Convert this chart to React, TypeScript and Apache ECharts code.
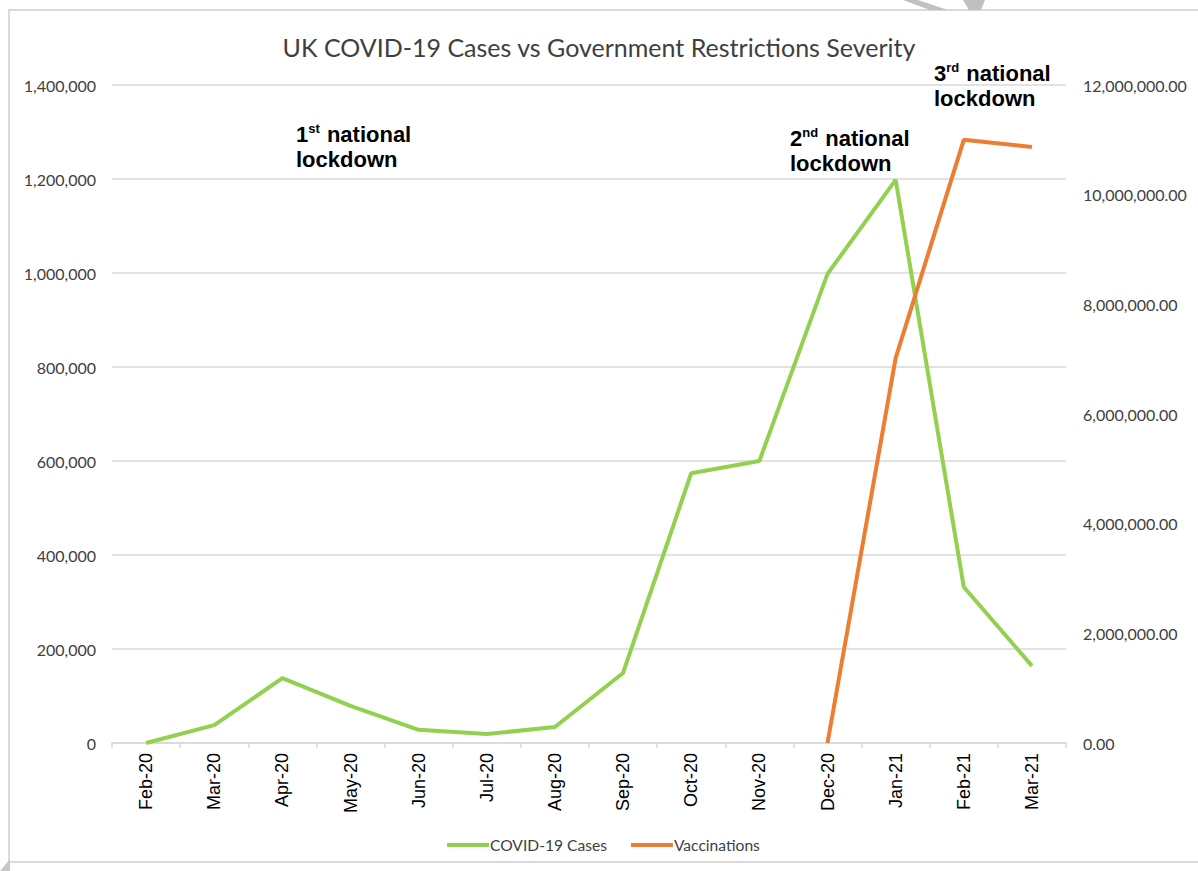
import React, { useEffect, useRef } from "react";
import * as echarts from "echarts";

const categories = ["Feb-20", "Mar-20", "Apr-20", "May-20", "Jun-20", "Jul-20", "Aug-20", "Sep-20", "Oct-20", "Nov-20", "Dec-20", "Jan-21", "Feb-21", "Mar-21"];
const covidCases = [0, 38000, 138000, 79000, 28000, 19000, 34000, 149000, 574000, 600000, 998000, 1198000, 332000, 164000];
const vaccinations = [null, null, null, null, null, null, null, null, null, null, 0, 7020000, 11000000, 10870000];
const seriesNames = ["COVID-19 Cases", "Vaccinations"];
const titleText = "UK COVID-19 Cases vs Government Restrictions Severity";

export default function App() {
  const ref = useRef<HTMLDivElement>(null);
  useEffect(() => {
    const chart = echarts.init(ref.current!, null, { renderer: "svg" });
    const annStyle = (text: string, x: number, y: number) => ({
      type: "text",
      x,
      y,
      style: {
        text,
        fill: "#000",
        rich: {
          b: { fontFamily: "Liberation Sans", fontWeight: "bold", fontSize: 22, lineHeight: 25 },
          s: { fontFamily: "Liberation Sans", fontWeight: "bold", fontSize: 13, lineHeight: 25, verticalAlign: "top", padding: [0, 1, 0, 0] },
        },
      },
    });
    chart.setOption({
      animation: false,
      backgroundColor: "#fff",
      title: {
        text: titleText,
        left: "center",
        top: 29,
        textStyle: { fontFamily: "Lato", fontWeight: "normal", fontSize: 25, color: "#404040" },
      },
      grid: { left: 112, right: 132, top: 85, bottom: 128 },
      legend: {
        bottom: 13,
        left: 442,
        itemWidth: 42,
        itemHeight: 4,
        itemGap: 24,
        icon: "rect",
        textStyle: { fontFamily: "Lato", fontSize: 15.6, color: "#404040", padding: [0, 0, 0, -4] },
        data: seriesNames,
      },
      xAxis: {
        type: "category",
        data: categories,
        boundaryGap: true,
        axisLine: { lineStyle: { color: "#d9d9d9", width: 1.5 } },
        axisTick: { show: true, length: 5, lineStyle: { color: "#d9d9d9", width: 1.5 } },
        axisLabel: { rotate: 90, fontFamily: "Liberation Sans", fontSize: 18, color: "#000", margin: 10 },
      },
      yAxis: [
        {
          type: "value",
          min: 0,
          max: 1400000,
          interval: 200000,
          axisLine: { show: false },
          axisTick: { show: false },
          splitLine: { lineStyle: { color: "#d9d9d9", width: 1.5 } },
          axisLabel: {
            fontFamily: "Lato",
            fontSize: 16,
            color: "#404040",
            margin: 16,
            formatter: (v: number) => v.toLocaleString("en-US"),
          },
        },
        {
          type: "value",
          min: 0,
          max: 12000000,
          interval: 2000000,
          axisLine: { show: false },
          axisTick: { show: false },
          splitLine: { show: false },
          axisLabel: {
            fontFamily: "Lato",
            fontSize: 16,
            color: "#404040",
            margin: 17,
            formatter: (v: number) => v.toLocaleString("en-US", { minimumFractionDigits: 2, maximumFractionDigits: 2 }),
          },
        },
      ],
      series: [
        {
          name: seriesNames[0],
          type: "line",
          data: covidCases,
          yAxisIndex: 0,
          symbol: "none",
          lineStyle: { color: "#92D050", width: 4 },
          itemStyle: { color: "#92D050" },
        },
        {
          name: seriesNames[1],
          type: "line",
          data: vaccinations,
          yAxisIndex: 1,
          symbol: "none",
          lineStyle: { color: "#ED7D31", width: 4 },
          itemStyle: { color: "#ED7D31" },
        },
      ],
      graphic: [
        { type: "rect", shape: { x: 9, y: 10, width: 1210, height: 852 }, style: { fill: "none", stroke: "#d9d9d9", lineWidth: 2 }, z: -1 },
        { type: "polygon", shape: { points: [[0, 871], [10, 859], [10, 871]] }, style: { fill: "#c8c8c8" } },
        { type: "polygon", shape: { points: [[903, 0], [918, 0], [948, 10], [930, 10]] }, style: { fill: "#c0c0c0" } },
        { type: "polygon", shape: { points: [[963, 0], [985, 0], [981, 10], [969, 10]] }, style: { fill: "#c0c0c0" } },
        annStyle("{b|1}{s|st}{b| national}\n{b|lockdown}", 296, 122),
        annStyle("{b|2}{s|nd}{b| national}\n{b|lockdown}", 790, 126),
        annStyle("{b|3}{s|rd}{b| national}\n{b|lockdown}", 934, 61),
      ],
    });
    return () => chart.dispose();
  }, []);
  return <div ref={ref} style={{ position: "fixed", left: 0, top: 0, width: 1198, height: 871 }} />;
}
